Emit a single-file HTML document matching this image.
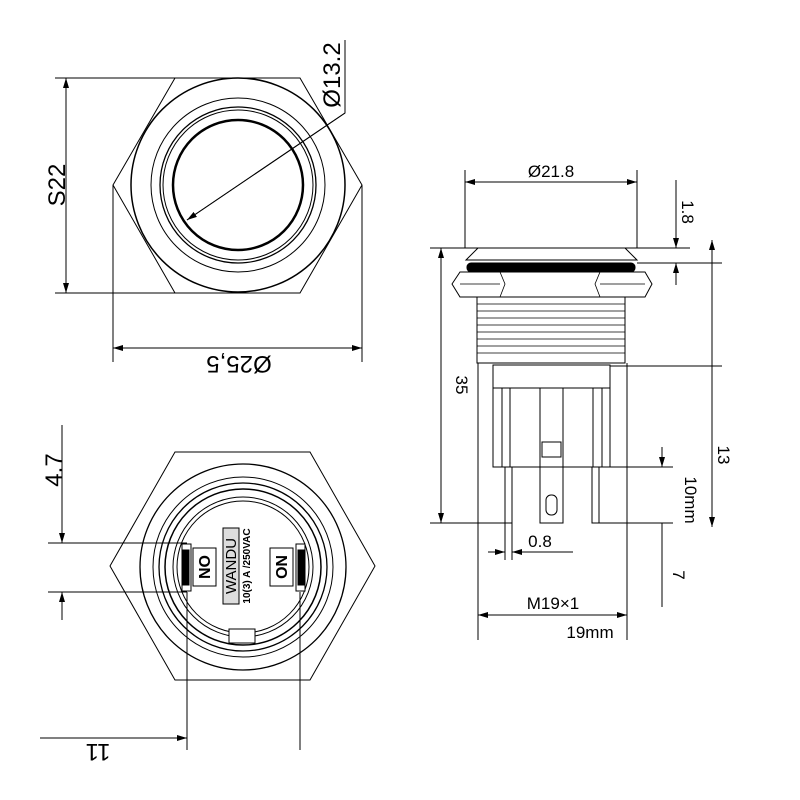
<!DOCTYPE html>
<html><head><style>body{margin:0;background:#fff}svg{display:block}</style></head><body>
<svg width="800" height="800" viewBox="0 0 800 800" xmlns="http://www.w3.org/2000/svg" font-family="Liberation Sans, sans-serif" fill="none" stroke="#000" stroke-width="1">
<defs><marker id="a" markerWidth="10" markerHeight="6" refX="10" refY="3" orient="auto-start-reverse"><path d="M0,0 L10,3 L0,6z" fill="#000" stroke="none"/></marker></defs>
<!-- Top view -->
<polygon points="175,78 300,78 362,185 300,293 175,293 113,185"/>
<circle cx="238" cy="185" r="107" stroke-width="1.5"/>
<circle cx="238" cy="185" r="87"/>
<circle cx="238" cy="185" r="78" stroke-width="1.3"/>
<circle cx="238" cy="185" r="75"/>
<circle cx="238" cy="185" r="65" stroke-width="2.5"/>
<line x1="55" y1="78" x2="175" y2="78"/><line x1="55" y1="293" x2="175" y2="293"/>
<line x1="66" y1="78" x2="66" y2="293" marker-start="url(#a)" marker-end="url(#a)"/>
<line x1="113" y1="185" x2="113" y2="362"/><line x1="362" y1="185" x2="362" y2="362"/>
<line x1="113" y1="348" x2="362" y2="348" marker-start="url(#a)" marker-end="url(#a)"/>
<polyline points="187,220 345,113 345,40"/>
<line x1="345" y1="113" x2="187" y2="220" marker-end="url(#a)"/>
<g fill="#000" stroke="none" font-size="24">
<text transform="translate(239,356) rotate(180)" text-anchor="middle">Ø25,5</text>
<text transform="translate(65,185) rotate(-90)" text-anchor="middle">S22</text>
<text transform="translate(340,75) rotate(-90)" text-anchor="middle">Ø13.2</text>
</g>
<!-- Bottom view -->
<polygon points="175,452 310,452 375,566 310,680 175,680 110,566"/>
<circle cx="243" cy="567" r="103" stroke-width="1.3"/>
<circle cx="243" cy="567" r="90"/>
<circle cx="243" cy="567" r="84" stroke-width="1.3"/>
<circle cx="243" cy="567" r="78" stroke-width="1.5"/>
<circle cx="243" cy="567" r="70"/>
<circle cx="243" cy="567" r="66"/>
<rect x="229" y="629" width="26" height="14" fill="#fff"/>
<rect x="182" y="544" width="9" height="47" fill="#fff"/><rect x="183" y="550" width="6" height="35" fill="#000"/>
<rect x="296" y="544" width="9" height="47" fill="#fff"/><rect x="298" y="550" width="6" height="35" fill="#000"/>
<rect x="193" y="548" width="23" height="38"/><rect x="270" y="548" width="23" height="38"/>
<rect x="223" y="528" width="16" height="76" fill="#ddd"/>
<g fill="#000" stroke="none" font-weight="bold">
<text transform="translate(210,567) rotate(-90)" text-anchor="middle" font-size="16">NO</text>
<text transform="translate(276,567) rotate(90)" text-anchor="middle" font-size="16">NO</text>
<text transform="translate(236,566) rotate(-90)" text-anchor="middle" font-size="15" font-weight="normal">WANDU</text>
<text transform="translate(250,566) rotate(-90)" text-anchor="middle" font-size="10">10(3) A /250VAC</text>
</g>
<line x1="48" y1="543" x2="187" y2="543"/><line x1="48" y1="592" x2="187" y2="592"/>
<line x1="62" y1="425" x2="62" y2="543" marker-end="url(#a)"/><line x1="62" y1="620" x2="62" y2="592" marker-end="url(#a)"/>
<line x1="187" y1="592" x2="187" y2="750"/><line x1="300" y1="592" x2="300" y2="750"/>
<line x1="40" y1="738" x2="187" y2="738" marker-end="url(#a)"/>
<g fill="#000" stroke="none" font-size="24">
<text transform="translate(62,470) rotate(-90)" text-anchor="middle">4.7</text>
<text transform="translate(98,744) rotate(180)" text-anchor="middle">11</text>
</g>
<!-- Side view -->
<path d="M466,260 L478,248 L625,248 L637,260 Z"/>
<rect x="467" y="263" width="168" height="9" fill="#000" rx="4"/>
<path d="M452,284 L460,272 L645,272 L652,284 L645,297 L460,297 Z" fill="#fff"/>
<path d="M500,272 L505,284 L500,297 M600,272 L595,284 L600,297 M460,284 L500,284 M600,284 L645,284" stroke-width="0.8"/>
<rect x="477" y="297" width="148" height="66" fill="#fff"/>
<g stroke-width="0.8"><line x1="477" y1="304" x2="625" y2="304"/><line x1="477" y1="311" x2="625" y2="311"/><line x1="477" y1="318" x2="625" y2="318"/><line x1="477" y1="325" x2="625" y2="325"/><line x1="477" y1="332" x2="625" y2="332"/><line x1="477" y1="339" x2="625" y2="339"/><line x1="477" y1="346" x2="625" y2="346"/><line x1="477" y1="353" x2="625" y2="353"/></g>
<rect x="493" y="365" width="117" height="102"/>
<line x1="493" y1="388" x2="610" y2="388"/>
<line x1="502" y1="388" x2="502" y2="467"/><line x1="510" y1="388" x2="510" y2="467"/>
<line x1="540" y1="388" x2="540" y2="467"/><line x1="563" y1="388" x2="563" y2="467"/>
<line x1="593" y1="388" x2="593" y2="467"/><line x1="602" y1="388" x2="602" y2="467"/>
<rect x="542" y="442" width="19" height="15"/>
<rect x="505" y="467" width="7" height="56"/><rect x="540" y="467" width="23" height="56"/><rect x="592" y="467" width="7" height="56"/>
<rect x="546" y="495" width="11" height="20" rx="5"/>
<line x1="465" y1="170" x2="465" y2="248"/><line x1="637" y1="170" x2="637" y2="248"/>
<line x1="465" y1="182" x2="637" y2="182" marker-start="url(#a)" marker-end="url(#a)"/>
<line x1="430" y1="248" x2="690" y2="248"/><line x1="430" y1="523" x2="505" y2="523"/>
<line x1="441" y1="248" x2="441" y2="523" marker-start="url(#a)" marker-end="url(#a)"/>
<line x1="637" y1="263" x2="722" y2="263"/>
<line x1="676" y1="180" x2="676" y2="248" marker-end="url(#a)"/><line x1="676" y1="285" x2="676" y2="263" marker-end="url(#a)"/>
<line x1="610" y1="366" x2="722" y2="366"/>
<line x1="712" y1="240" x2="712" y2="527" marker-start="url(#a)" marker-end="url(#a)"/>
<line x1="602" y1="467" x2="673" y2="467"/><line x1="599" y1="523" x2="673" y2="523"/>
<line x1="662" y1="447" x2="662" y2="467" marker-end="url(#a)"/><line x1="662" y1="523" x2="662" y2="607"/>
<line x1="505" y1="523" x2="505" y2="560"/><line x1="512" y1="523" x2="512" y2="560"/>
<line x1="488" y1="552" x2="505" y2="552" marker-end="url(#a)"/><line x1="573" y1="552" x2="512" y2="552" marker-end="url(#a)"/>
<line x1="478" y1="363" x2="478" y2="640"/><line x1="627" y1="363" x2="627" y2="640"/>
<line x1="478" y1="615" x2="627" y2="615" marker-start="url(#a)" marker-end="url(#a)"/>
<g fill="#000" stroke="none" font-size="17">
<text x="551" y="177" text-anchor="middle">Ø21.8</text>
<text transform="translate(682,212) rotate(90)" text-anchor="middle">1.8</text>
<text transform="translate(456,385) rotate(90)" text-anchor="middle">35</text>
<text transform="translate(718,455) rotate(90)" text-anchor="middle">13</text>
<text transform="translate(685,500) rotate(90)" text-anchor="middle">10mm</text>
<text transform="translate(673,575) rotate(90)" text-anchor="middle">7</text>
<text x="540" y="547" text-anchor="middle">0.8</text>
<text x="553" y="609" text-anchor="middle">M19×1</text>
<text x="590" y="638" text-anchor="middle">19mm</text>
</g>
</svg>
</body></html>
